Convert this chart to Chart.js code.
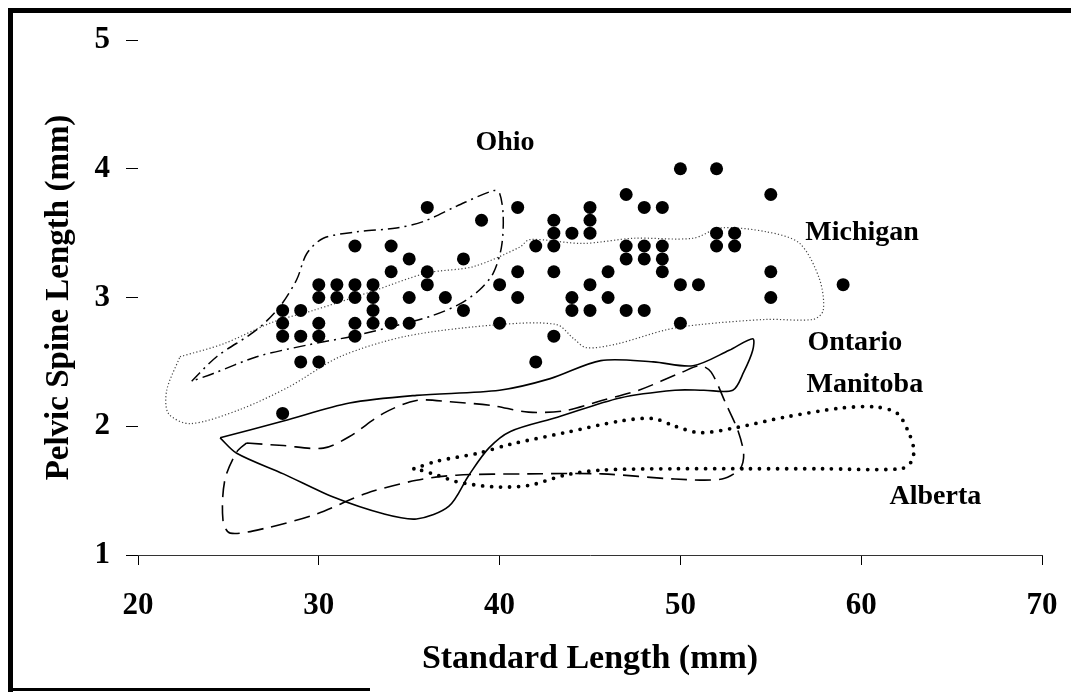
<!DOCTYPE html>
<html>
<head>
<meta charset="utf-8">
<script src="https://cdn.jsdelivr.net/npm/chart.js@4.4.1/dist/chart.umd.min.js"></script>
<style>
  body { margin: 0; background: #fff; }
  #wrap { position: relative; width: 1071px; height: 700px; }
  .frame { position: absolute; background: #000; }
</style>
</head>
<body>
<div id="wrap">
  <canvas id="chart" width="1071" height="700"></canvas>
  <div class="frame" style="left:8px;top:8px;width:1063px;height:5px"></div>
  <div class="frame" style="left:8px;top:8px;width:5px;height:684px"></div>
  <div class="frame" style="left:8px;top:688px;width:362px;height:3px"></div>
</div>
<script>
// fish measurements (standard length vs pelvic spine length)
const fishX = [28, 28, 28, 28, 29, 29, 29, 30, 30, 30, 30, 30, 31, 31, 32, 32, 32, 32, 32,
  33, 33, 33, 33, 34, 34, 34, 35, 35, 35, 36, 36, 36, 37, 38, 38, 39, 40, 40, 41, 41, 41,
  42, 42, 43, 43, 43, 43, 43, 44, 44, 44, 45, 45, 45, 45, 45, 46, 46, 47, 47, 47, 47,
  48, 48, 48, 48, 49, 49, 49, 49, 50, 50, 50, 51, 52, 52, 52, 53, 53, 55, 55, 55, 59];
const fishY = [2.9, 2.8, 2.7, 2.1, 2.9, 2.7, 2.5, 3.1, 3.0, 2.8, 2.7, 2.5, 3.1, 3.0, 3.4, 3.1, 3.0, 2.8, 2.7,
  3.1, 3.0, 2.9, 2.8, 3.4, 3.2, 2.8, 3.3, 3.0, 2.8, 3.7, 3.2, 3.1, 3.0, 3.3, 2.9, 3.6, 3.1, 2.8, 3.7, 3.2, 3.0,
  3.4, 2.5, 3.6, 3.5, 3.4, 3.2, 2.7, 3.5, 3.0, 2.9, 3.7, 3.6, 3.5, 3.1, 2.9, 3.2, 3.0, 3.8, 3.4, 3.3, 2.9,
  3.7, 3.4, 3.3, 2.9, 3.7, 3.4, 3.3, 3.2, 4.0, 3.1, 2.8, 3.1, 4.0, 3.5, 3.4, 3.5, 3.4, 3.8, 3.2, 3.0, 3.1];

// outlines of the other populations
const ohioX = [22.97, 24.35, 26.57, 27.85, 28.78, 29.33, 30.25, 32.1, 34.3, 35.78, 37.63, 39.65, 40.0, 40.2,
  40.1, 39.65, 38.9, 37.8, 36.3, 34.5, 31.9, 29.33, 26.57, 24.17, 22.97];
const ohioY = [2.35, 2.54, 2.75, 2.93, 3.14, 3.34, 3.46, 3.51, 3.54, 3.59, 3.71, 3.83, 3.81, 3.63,
  3.39, 3.19, 3.06, 2.95, 2.86, 2.79, 2.70, 2.63, 2.54, 2.41, 2.35];

const michiganX = [22.32, 24.72, 27.48, 29.7, 33.0, 35.97, 38.55, 41.1, 41.68, 44.6, 47.4, 50.7, 52.2, 54.77,
  56.6, 57.7, 57.9, 57.35, 54.77, 51.1, 49.24, 46.5, 44.8, 44.1, 43.15, 40.0, 34.86, 31.17, 28.4, 25.64,
  22.88, 21.68, 21.59, 22.32];
const michiganY = [2.54, 2.64, 2.81, 2.90, 3.05, 3.19, 3.24, 3.39, 3.45, 3.42, 3.46, 3.46, 3.54, 3.51,
  3.42, 3.14, 2.90, 2.83, 2.83, 2.79, 2.75, 2.64, 2.61, 2.68, 2.79, 2.79, 2.70, 2.54, 2.31, 2.13,
  2.02, 2.10, 2.28, 2.54];

const ontarioX = [24.54, 28.04, 31.7, 35.4, 40.0, 42.8, 45.6, 48.5, 50.7, 52.7, 54.0, 54.0, 53.5, 52.9,
  51.3, 49.7, 46.65, 43.2, 40.6, 39.4, 38.3, 37.2, 35.4, 33.57, 30.8, 28.04, 25.46, 24.54];
const ontarioY = [1.91, 2.04, 2.18, 2.24, 2.28, 2.37, 2.51, 2.50, 2.47, 2.59, 2.68, 2.59, 2.42, 2.28,
  2.28, 2.28, 2.22, 2.07, 1.96, 1.83, 1.62, 1.38, 1.28, 1.32, 1.45, 1.63, 1.79, 1.91];

const manitobaX = [26.0, 28.04, 30.25, 31.7, 33.57, 35.4, 37.26, 39.6, 41.6, 43.6, 45.65, 47.7, 50.1, 51.1,
  51.7, 52.5, 53.2, 53.5, 53.3, 52.3, 49.7, 45.65, 41.6, 37.6, 35.4, 32.65, 29.9, 27.1, 25.1, 24.7,
  24.8, 25.46, 26.0];
const manitobaY = [1.87, 1.85, 1.83, 1.92, 2.10, 2.20, 2.19, 2.16, 2.11, 2.12, 2.20, 2.28, 2.42, 2.47,
  2.42, 2.18, 1.96, 1.78, 1.67, 1.59, 1.59, 1.63, 1.63, 1.62, 1.58, 1.48, 1.32, 1.21, 1.17, 1.27,
  1.58, 1.80, 1.87];

const albertaX = [35.26, 36.56, 38.8, 40.6, 43.6, 46.65, 48.5, 49.7, 51.1, 53.1, 55.75, 58.8, 60.8, 62.0,
  62.6, 62.9, 62.8, 62.2, 57.8, 53.7, 49.7, 45.65, 43.6, 41.6, 39.6, 37.6, 36.56, 35.6, 35.26];
const albertaY = [1.67, 1.73, 1.79, 1.86, 1.95, 2.04, 2.06, 2.00, 1.95, 1.99, 2.07, 2.14, 2.15, 2.10,
  1.96, 1.83, 1.73, 1.67, 1.67, 1.67, 1.67, 1.66, 1.62, 1.54, 1.53, 1.57, 1.62, 1.66, 1.67];

const xTicks = [20, 30, 40, 50, 60, 70];
const yTicks = [1, 2, 3, 4, 5];

// region names, placed in data units
const regionNames = ['Ohio', 'Michigan', 'Ontario', 'Manitoba', 'Alberta'];
const regionNameX = [40.3, 60.05, 59.65, 60.2, 64.1];
const regionNameY = [4.2, 3.5, 2.65, 2.32, 1.45];

const toPoints = (xs, ys) => xs.map((x, i) => ({ x: x, y: ys[i] }));

const outline = (label, xs, ys, extra) => ({
  label: label,
  data: toPoints(xs, ys),
  showLine: true,
  pointRadius: 0,
  tension: 0.3,
  borderColor: '#000',
  borderWidth: 1.6,
  fill: false,
  ...extra,
});

const serif = "'Liberation Serif', 'DejaVu Serif', serif";
Chart.defaults.font.family = serif;
Chart.defaults.color = '#000';

const regionLabels = {
  id: 'regionLabels',
  afterDatasetsDraw(chart) {
    const { ctx, scales } = chart;
    ctx.save();
    ctx.font = 'bold 28px ' + serif;
    ctx.fillStyle = '#000';
    ctx.textAlign = 'center';
    ctx.textBaseline = 'middle';
    regionNames.forEach((name, i) => {
      ctx.fillText(name, scales.x.getPixelForValue(regionNameX[i]), scales.y.getPixelForValue(regionNameY[i]));
    });
    ctx.restore();
  },
};

new Chart(document.getElementById('chart'), {
  type: 'scatter',
  data: {
    datasets: [
      {
        label: 'Fish',
        data: toPoints(fishX, fishY),
        pointRadius: 6.5,
        pointBackgroundColor: '#000',
        pointBorderWidth: 0,
      },
      outline('Ohio', ohioX, ohioY, { borderDash: [12, 5, 2, 5], borderWidth: 1.5 }),
      outline('Michigan', michiganX, michiganY, { borderDash: [1.2, 2.2], borderWidth: 1.2, borderColor: '#444' }),
      outline('Ontario', ontarioX, ontarioY, { borderWidth: 1.6 }),
      outline('Manitoba', manitobaX, manitobaY, { borderDash: [16, 8], borderWidth: 1.6 }),
      outline('Alberta', albertaX, albertaY, { borderDash: [0, 9], borderCapStyle: 'round', borderWidth: 3.8 }),
    ],
  },
  options: {
    responsive: false,
    animation: false,
    layout: { padding: { top: 40, right: 29, left: 0, bottom: 0 } },
    plugins: { legend: { display: false }, tooltip: { enabled: false } },
    scales: {
      x: {
        type: 'linear',
        min: 20,
        max: 70,
        afterBuildTicks: (scale) => { scale.ticks = xTicks.map(v => ({ value: v })); },
        afterFit: (scale) => {
          scale.height = 145;
          scale.paddingLeft = 0;
          scale.paddingRight = 0;
        },
        ticks: { font: { size: 31, weight: 'bold' }, padding: 22, color: '#000' },
        grid: { drawOnChartArea: false, tickLength: 10, color: '#000' },
        border: { display: true, color: '#333', width: 1 },
        title: {
          display: true,
          text: 'Standard Length (mm)',
          font: { size: 34, weight: 'bold' },
          color: '#000',
          padding: { top: 0, bottom: 20 },
        },
      },
      y: {
        type: 'linear',
        min: 1,
        max: 5,
        afterBuildTicks: (scale) => { scale.ticks = yTicks.map(v => ({ value: v })); },
        afterFit: (scale) => { scale.width = 138; },
        ticks: { font: { size: 31, weight: 'bold' }, padding: 16, color: '#000' },
        grid: { drawOnChartArea: false, tickLength: 12, color: '#000' },
        border: { display: false },
        title: {
          display: true,
          text: 'Pelvic Spine Length (mm)',
          font: { size: 33, weight: 'bold' },
          color: '#000',
          padding: { top: 40, bottom: 0 },
        },
      },
    },
  },
  plugins: [regionLabels],
});
</script>
</body>
</html>
